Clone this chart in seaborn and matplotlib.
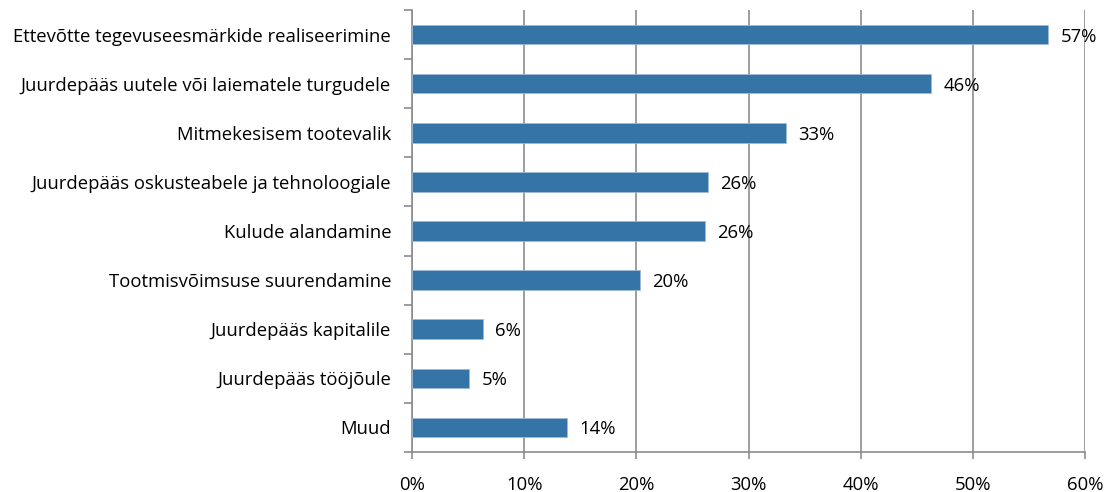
import matplotlib
matplotlib.use("Agg")
import matplotlib.pyplot as plt
import seaborn as sns
import pandas as pd
import numpy as np
from matplotlib.ticker import FixedLocator, FuncFormatter

categories = [
    "Ettevõtte tegevuseesmärkide realiseerimine",
    "Juurdepääs uutele või laiematele turgudele",
    "Mitmekesisem tootevalik",
    "Juurdepääs oskusteabele ja tehnoloogiale",
    "Kulude alandamine",
    "Tootmisvõimsuse suurendamine",
    "Juurdepääs kapitalile",
    "Juurdepääs tööjõule",
    "Muud",
]
values = [56.7, 46.3, 33.3, 26.4, 26.1, 20.3, 6.3, 5.1, 13.8]
labels = ["57%", "46%", "33%", "26%", "26%", "20%", "6%", "5%", "14%"]
x_ticks = [0, 10, 20, 30, 40, 50, 60]

sns.set_theme(style="white")
plt.rcParams['font.family'] = ['Open Sans', 'DejaVu Sans']

df = pd.DataFrame({"cat": categories, "val": values})
fig = plt.figure(figsize=(11.08, 4.92), dpi=100)
ax = fig.add_axes([412/1108, 40/492, (1085-412)/1108, (452-10)/492])

sns.barplot(data=df, y="cat", x="val", color="#3474a6", saturation=1, width=0.4,
            ax=ax, orient="h", edgecolor="#9dbbd6", linewidth=0.6, zorder=3)

ax.set_xlim(0, 60)
ax.set_ylim(len(categories) - 0.5, -0.5)
ax.xaxis.set_major_locator(FixedLocator(x_ticks))
ax.xaxis.set_major_formatter(FuncFormatter(lambda v, p: f"{int(v)}%"))
ax.grid(axis="x", color="#8c8c8c", linewidth=1.2, zorder=0)
ax.set_axisbelow(True)
ax.set_xlabel("")
ax.set_ylabel("")

for s in ["top", "right"]:
    ax.spines[s].set_visible(False)
for s in ["left", "bottom"]:
    ax.spines[s].set_color("#8c8c8c")
    ax.spines[s].set_linewidth(1.2)

fs = 13.3
ax.tick_params(axis="x", which="major", length=5, width=1.2, color="#8c8c8c",
               labelsize=fs, labelcolor="black", pad=12, bottom=True)
ax.tick_params(axis="y", which="major", length=0, labelsize=fs, labelcolor="black", pad=15)
ax.yaxis.set_minor_locator(FixedLocator(np.arange(-0.5, len(categories), 1)))
ax.tick_params(axis="y", which="minor", length=6, width=1.2, color="#8c8c8c", left=True)

for i, (v, lab) in enumerate(zip(values, labels)):
    ax.text(v + 1.1, i + 0.04, lab, va="center", ha="left", fontsize=fs, color="black", zorder=4)

fig.savefig("out.png", dpi=100)
